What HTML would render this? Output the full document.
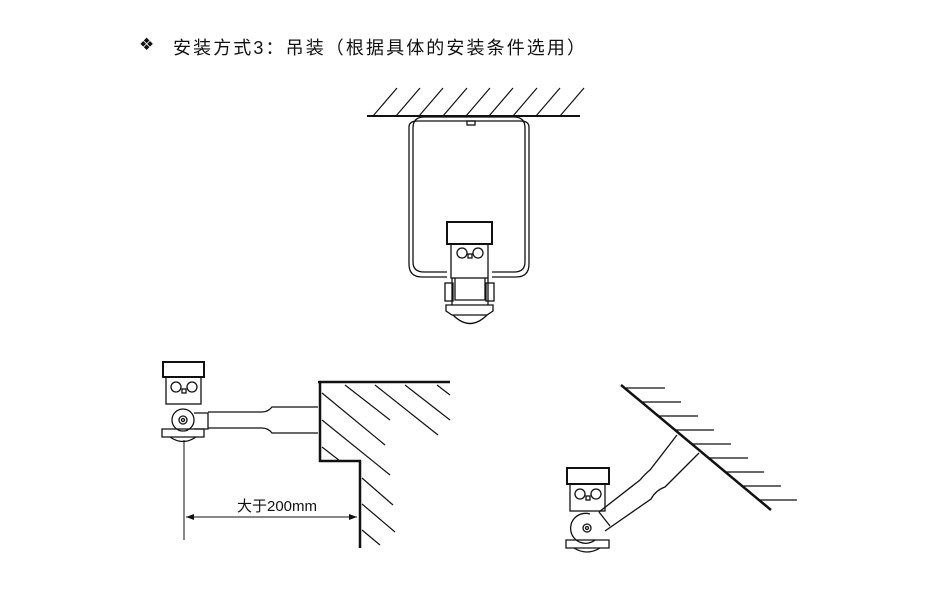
<!DOCTYPE html>
<html><head><meta charset="utf-8"><style>
html,body{margin:0;padding:0;background:#fff;width:930px;height:596px;overflow:hidden}
.g{position:absolute;left:139px;top:35px;font:17px "DejaVu Sans",sans-serif;color:#111}
.t{position:absolute;left:173px;top:34px;font:18px "Liberation Sans","Noto Sans CJK SC",sans-serif;color:#111;letter-spacing:2.1px;white-space:nowrap}
svg{position:absolute;left:0;top:0}
</style></head><body>
<div class="g">❖</div>
<div class="t">安装方式3：吊装（根据具体的安装条件选用）</div>
<svg width="930" height="596" viewBox="0 0 930 596" fill="none" stroke="#111" stroke-width="1.3">
<line x1="367" y1="116" x2="580" y2="116" stroke-width="2"/>
<g stroke-width="1.2">
<line x1="373" y1="116" x2="397" y2="88"/><line x1="396" y1="116" x2="420" y2="88"/><line x1="419" y1="116" x2="443" y2="88"/><line x1="443" y1="116" x2="467" y2="88"/><line x1="466" y1="116" x2="490" y2="88"/><line x1="489" y1="116" x2="513" y2="88"/><line x1="513" y1="116" x2="537" y2="88"/><line x1="536" y1="116" x2="560" y2="88"/><line x1="560" y1="116" x2="584" y2="88"/>
</g>
<path d="M447 272 H424 Q413 272 413 262 V128 Q413 117 424 117 H514 Q525 117 525 128 V262 Q525 272 514 272 H492"/>
<path d="M447 277 H422 Q409 277 409 264 V127 Q409 121 418 121 H520 Q529 121 529 127 V264 Q529 277 516 277 H492"/>
<rect x="467" y="121" width="8" height="4"/>
<rect x="447" y="222" width="45" height="22" stroke-width="2"/>
<rect x="451" y="244" width="37" height="34"/>
<circle cx="462" cy="253" r="5"/><circle cx="478" cy="253" r="5"/><rect x="468" y="254" width="4" height="4"/>
<rect x="445" y="283" width="8" height="18"/><rect x="486" y="283" width="8" height="18"/>
<path d="M452 278 V305 M488 278 V305 M455 278 V300 H485 V278"/>
<path d="M446 305 H493 V311 L487 315 H452 L446 311 Z"/>
<path d="M453 315 Q470 332 487 315"/>
<rect x="163" y="362" width="41" height="15" stroke-width="2"/>
<rect x="166" y="377" width="35" height="27"/>
<circle cx="176" cy="387" r="5"/><circle cx="192" cy="387" r="5"/><rect x="182" y="389" width="4" height="4"/>
<circle cx="183" cy="420" r="11"/><circle cx="183" cy="420" r="4"/><circle cx="183" cy="420" r="1.5"/>
<path d="M162 429 H204 V437 H162 Z"/><path d="M170 437 Q183 446 196 437"/>
<line x1="184" y1="440" x2="184" y2="540" stroke-width="1"/>
<path d="M194 413 H208 V429 H194"/>
<path d="M208 412 H262 Q268 412 272 407 H318 M208 428 H262 Q268 428 272 433 H318"/>
<path d="M318 382 H450 M320 382 V461 H360 V548" stroke-width="2.5"/>
<g stroke-width="1.2">
<line x1="345" y1="385" x2="390" y2="420"/><line x1="375" y1="385" x2="438" y2="435"/><line x1="405" y1="385" x2="450" y2="420"/><line x1="437" y1="385" x2="450" y2="395"/>
<line x1="322" y1="393" x2="385" y2="445"/><line x1="322" y1="420" x2="390" y2="475"/><line x1="322" y1="447" x2="340" y2="461"/>
<line x1="362" y1="478" x2="393" y2="505"/><line x1="362" y1="504" x2="395" y2="532"/><line x1="362" y1="530" x2="380" y2="545"/>
</g>
<line x1="186" y1="517" x2="357" y2="517" stroke-width="1"/>
<path d="M186 517 L194 514 L194 520 Z M357 517 L349 514 L349 520 Z" fill="#111" stroke="none"/>
<text x="237" y="511" font-family="Liberation Sans,Noto Sans CJK SC,sans-serif" font-size="15" fill="#111" stroke="none">大于200mm</text>
<line x1="621" y1="385" x2="771" y2="510" stroke-width="2.5"/>
<g stroke-width="1.2">
<line x1="624" y1="388" x2="665" y2="388"/><line x1="641" y1="402" x2="681" y2="402"/><line x1="658" y1="416" x2="698" y2="416"/><line x1="675" y1="430" x2="714" y2="430"/><line x1="691" y1="444" x2="731" y2="444"/><line x1="708" y1="458" x2="748" y2="458"/><line x1="725" y1="472" x2="764" y2="472"/><line x1="741" y1="486" x2="781" y2="486"/><line x1="758" y1="500" x2="797" y2="500"/>
</g>
<path d="M599 512 L640 480 Q645 474 650 470 L677 435 M605 531 L651 499 Q656 490 665 487 L699 453"/>
<line x1="599" y1="512" x2="610" y2="526"/>
<rect x="567" y="468" width="42" height="16" stroke-width="2"/>
<rect x="570" y="484" width="35" height="27"/>
<circle cx="580" cy="494" r="5"/><circle cx="596" cy="494" r="5"/><rect x="586" y="496" width="4" height="4"/>
<path d="M595 540 A15 15 0 1 1 590 514"/><circle cx="587" cy="528" r="4"/><circle cx="587" cy="528" r="1.5"/>
<path d="M566 540 H609 V548 H566 Z"/><path d="M574 548 Q587 556 600 548"/>
</svg>
</body></html>
